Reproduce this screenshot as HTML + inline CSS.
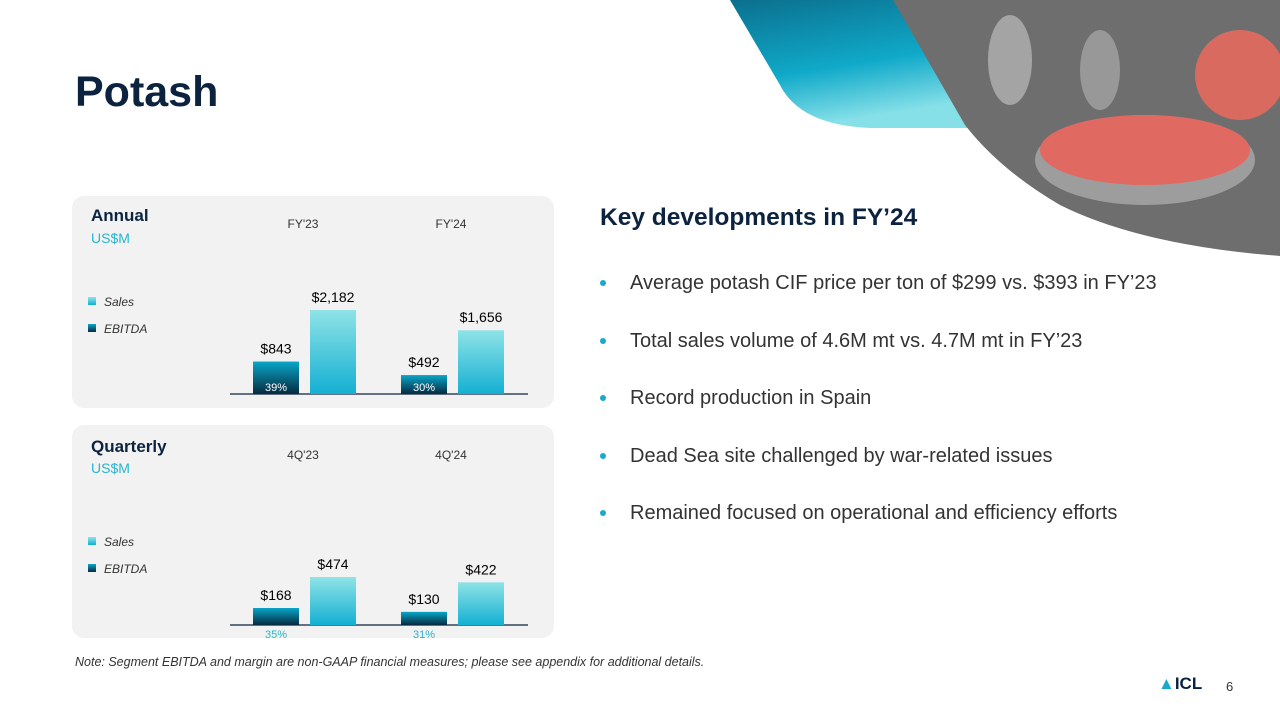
<!DOCTYPE html>
<html><head><meta charset="utf-8">
<style>
*{margin:0;padding:0;box-sizing:border-box}
body{width:1280px;height:720px;position:relative;background:#fff;font-family:"Liberation Sans",sans-serif;overflow:hidden}
.abs{position:absolute}
.panel{position:absolute;left:72px;width:482px;background:#f2f2f2;border-radius:12px}
.ttl{position:absolute;left:19px;font-weight:bold;font-size:17px;color:#0c2340}
.unit{position:absolute;left:19px;font-size:14px;color:#29b4cf}
.lab{font-size:14px;color:#333;text-anchor:middle}
.bul{position:absolute;left:600px;font-size:20px;color:#333;white-space:nowrap}
.bul::before{content:"";position:absolute;left:0;top:8px;width:6px;height:6px;border-radius:3px;background:#1aa9cc}
.bul span{margin-left:30px}
</style></head><body>
<svg class="abs" style="left:0;top:0" width="1280" height="720">
<defs>
<linearGradient id="tg" x1="0" y1="0" x2="0.3" y2="1"><stop offset="0" stop-color="#0b6f8e"/><stop offset="0.6" stop-color="#10a9c9"/><stop offset="1" stop-color="#86e0e8"/></linearGradient>
<linearGradient id="sg" x1="0" y1="0" x2="0" y2="1"><stop offset="0" stop-color="#8fe3e6"/><stop offset="1" stop-color="#14b0d3"/></linearGradient>
<linearGradient id="eg" x1="0" y1="0" x2="0" y2="1"><stop offset="0" stop-color="#0aa6c8"/><stop offset="1" stop-color="#062a40"/></linearGradient>
</defs>
<path d="M730,0 L895,0 L968,128 L870,128 Q800,125 780,85 Z" fill="url(#tg)"/>
<path d="M893,0 L1280,0 L1280,256 Q1140,245 1060,205 Q1000,170 965,125 Z" fill="#6e6e6e"/>
<ellipse cx="1145" cy="160" rx="110" ry="45" fill="#bdbdbd" opacity="0.6"/>
<ellipse cx="1145" cy="150" rx="105" ry="35" fill="#e06a62"/>
<ellipse cx="1240" cy="75" rx="45" ry="45" fill="#d86a60"/>
<ellipse cx="1010" cy="60" rx="22" ry="45" fill="#bbb" opacity="0.7"/>
<ellipse cx="1100" cy="70" rx="20" ry="40" fill="#aaa" opacity="0.7"/>
</svg>
<div class="abs" style="left:75px;top:68px;font-size:43px;font-weight:bold;color:#0c2340">Potash</div>

<div class="panel" style="top:196px;height:212px">
<div class="ttl" style="top:10px">Annual</div><div class="unit" style="top:34px">US$M</div>
</div>
<div class="panel" style="top:425px;height:213px">
<div class="ttl" style="top:12px">Quarterly</div><div class="unit" style="top:35px">US$M</div>
</div>
<svg id="ch" class="abs" style="left:0;top:0" width="1280" height="720"></svg>

<div class="abs" style="left:600px;top:204px;font-size:24.5px;font-weight:bold;color:#0c2340">Key developments in FY’24</div>
<div class="bul" style="top:272px"><span>Average potash CIF price per ton of $299 vs. $393 in FY’23</span></div>
<div class="bul" style="top:330px"><span>Total sales volume of 4.6M mt vs. 4.7M mt in FY’23</span></div>
<div class="bul" style="top:387px"><span>Record production in Spain</span></div>
<div class="bul" style="top:445px"><span>Dead Sea site challenged by war-related issues</span></div>
<div class="bul" style="top:502px"><span>Remained focused on operational and efficiency efforts</span></div>
<div class="abs" style="left:75px;top:655px;font-size:12.5px;font-style:italic;color:#333;white-space:nowrap">Note: Segment EBITDA and margin are non-GAAP financial measures; please see appendix for additional details.</div>
<div class="abs" style="left:1158px;top:674px;font-size:17px;font-weight:bold;color:#0c2340"><span style="color:#1aa9cc">▲</span>ICL</div>
<div class="abs" style="left:1226px;top:679px;font-size:13px;color:#333">6</div>

<script>
const annualCats=["FY'23","FY'24"];
const annualSales=[2182,1656];
const annualEbitda=[843,492];
const annualMargin=["39%","30%"];
const qCats=["4Q'23","4Q'24"];
const qSales=[474,422];
const qEbitda=[168,130];
const qMargin=["35%","31%"];
const NS="http://www.w3.org/2000/svg";
const svg=document.getElementById('ch');
function mk(t,a,txt){const e=document.createElementNS(NS,t);for(const k in a)e.setAttribute(k,a[k]);if(txt!==undefined)e.textContent=txt;svg.appendChild(e);return e;}
function fmt(v){return '$'+v.toLocaleString('en-US');}
function chart(cats,sales,ebitda,margin,base,scale,catY,legY,marginInside,prefix){
  const x0=[253,401];
  mk('line',{x1:230,x2:528,y1:base,y2:base,stroke:'#0c2340','stroke-width':1.3});
  const ls=mk('rect',{x:88,y:legY-5,width:8,height:8,fill:'url(#sg)'});
  
  
  const lt=mk('text',{x:104,y:legY+4,'font-size':12,'font-style':'italic',fill:'#333'},'Sales');
  
  
  const le=mk('rect',{x:88,y:legY+22,width:8,height:8,fill:'url(#eg)'});
  
  
  const lu=mk('text',{x:104,y:legY+31,'font-size':12,'font-style':'italic',fill:'#333'},'EBITDA');
  
  
  cats.forEach((c,i)=>{
    const x=x0[i];
    const ct=mk('text',{x:x+50,y:catY,'font-size':12,fill:'#333','text-anchor':'middle'},c);
    
    
    const he=ebitda[i]*scale, hs=sales[i]*scale;
    const be=mk('rect',{x:x,y:base-he,width:46,height:he,fill:'url(#eg)'});
    
    
    const bs=mk('rect',{x:x+57,y:base-hs,width:46,height:hs,fill:'url(#sg)'});
    
    
    const ve=mk('text',{x:x+23,y:base-he-8,class:'lab'},fmt(ebitda[i]));
    
    
    const vs=mk('text',{x:x+80,y:base-hs-8,class:'lab'},fmt(sales[i]));
    
    
    const m=mk('text',{x:x+23,y:marginInside?base-3:base+13,'font-size':11,'text-anchor':'middle',fill:marginInside?'#fff':'#29b4cf'},margin[i]);
    
    
  });
}
chart(annualCats,annualSales,annualEbitda,annualMargin,394,84/2182,228,302,true,'annual');
chart(qCats,qSales,qEbitda,qMargin,625,48/474,459,542,false,'quarterly');
</script>
</body></html>
